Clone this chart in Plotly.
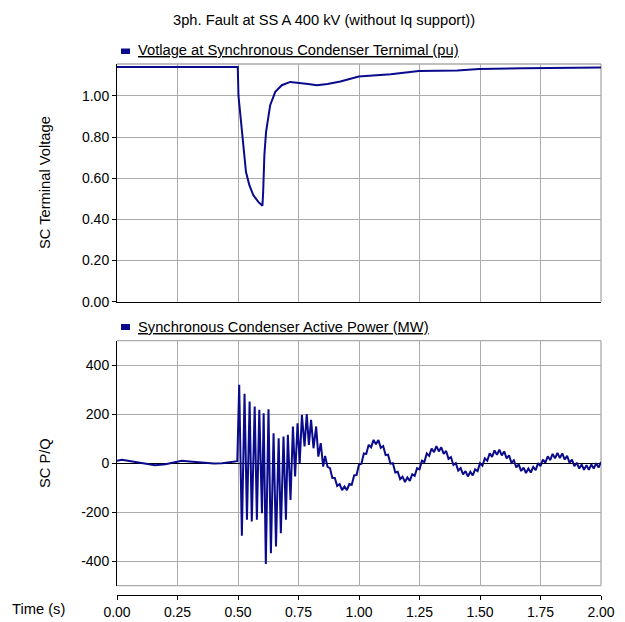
import plotly.graph_objects as go

# ---------------- data ----------------
t_volt = [0.0, 0.1, 0.2, 0.3, 0.4, 0.499, 0.502, 0.511, 0.517, 0.525, 0.533, 0.547,
          0.563, 0.584, 0.601, 0.604, 0.609, 0.616, 0.633, 0.654, 0.681, 0.716, 0.750,
          0.790, 0.826, 0.870, 0.923, 0.999, 1.131, 1.247, 1.406, 1.496, 1.682, 2.0]
volt = [1.14, 1.14, 1.14, 1.14, 1.14, 1.14, 1.00, 0.89, 0.79, 0.71, 0.63, 0.566,
        0.518, 0.485, 0.466, 0.534, 0.712, 0.825, 0.955, 1.02, 1.052, 1.068, 1.065,
        1.058, 1.052, 1.058, 1.07, 1.094, 1.105, 1.121, 1.123, 1.131, 1.134, 1.138]

t_pow = [0.0, 0.02, 0.07, 0.12, 0.157, 0.20, 0.24, 0.268, 0.30, 0.365, 0.40, 0.434, 0.47, 0.497,
         0.505, 0.516, 0.527, 0.537, 0.548, 0.557, 0.569, 0.578, 0.588, 0.599, 0.606, 0.615,
         0.626, 0.636, 0.647, 0.657, 0.668, 0.677, 0.688, 0.698, 0.706, 0.717, 0.727, 0.736,
         0.746, 0.755, 0.764, 0.775, 0.784, 0.793, 0.802, 0.812, 0.823, 0.832, 0.842, 0.852,
         0.86, 0.87, 0.88, 0.89, 0.90, 0.91, 0.92, 0.93, 0.94, 0.95, 0.96, 0.97, 0.98, 0.99,
         1.00, 1.01, 1.02, 1.03, 1.04, 1.05, 1.06, 1.07, 1.08, 1.09, 1.10, 1.11, 1.12, 1.13,
         1.14, 1.15, 1.16, 1.17, 1.18, 1.19, 1.20, 1.21, 1.22, 1.23, 1.24, 1.25, 1.26, 1.27,
         1.28, 1.29, 1.30, 1.31, 1.32, 1.33, 1.34, 1.35, 1.36, 1.37, 1.38, 1.39, 1.40, 1.41,
         1.42, 1.43, 1.44, 1.45, 1.46, 1.47, 1.48, 1.49, 1.50, 1.51, 1.52, 1.53, 1.54, 1.55,
         1.56, 1.57, 1.58, 1.59, 1.60, 1.61, 1.62, 1.63, 1.64, 1.65, 1.66, 1.67, 1.68, 1.69,
         1.70, 1.71, 1.72, 1.73, 1.74, 1.75, 1.76, 1.77, 1.78, 1.79, 1.80, 1.81, 1.82, 1.83,
         1.84, 1.85, 1.86, 1.87, 1.88, 1.89, 1.90, 1.91, 1.92, 1.93, 1.94, 1.95, 1.96, 1.97,
         1.98, 1.99, 2.00]
pow_mw = [10, 14, 6, -2, -8, -4, 4, 10, 7, 2, -1, 0, 3, 8,
          320, -296, 283, -231, 252, -238, 231, -231, 218, -204, 204, -411,
          220, -367, 122, -340, 102, -286, 109, -231, 116, -150, 150, -54,
          163, 0, 197, 68, 201, 75, 177, 61, 150, 27, 82, -14,
          30, -15, -20, -60, -60, -93, -85, -110, -95, -110, -85, -88, -50, -48,
          -5, -2, 40, 38, 75, 65, 95, 77, 95, 63, 70, 33, 35, -2,
          0, -38, -35, -65, -55, -77, -58, -72, -45, -52, -20, -25, 10, 5,
          40, 30, 60, 45, 70, 48, 65, 38, 50, 18, 25, -7, 0, -30,
          -20, -46, -32, -54, -35, -50, -25, -32, 0, -10, 20, 10, 40, 26,
          52, 34, 55, 32, 48, 20, 32, 2, 12, -17, -5, -32, -18, -40,
          -22, -38, -15, -28, 0, -12, 15, 2, 28, 13, 38, 20, 42, 21,
          40, 15, 30, 2, 15, -12, 2, -22, -5, -27, -8, -27, -5, -22,
          0, -18, 5]

x_ticks = [0.0, 0.25, 0.5, 0.75, 1.0, 1.25, 1.5, 1.75, 2.0]
v_ticks = [0.0, 0.2, 0.4, 0.6, 0.8, 1.0]
p_ticks = [-400, -200, 0, 200, 400]
p_tick_text = ["-400", "-200", "0", "200", "400"]

title_text = "3ph. Fault at SS A 400 kV (without Iq support))"
hdr_top = "Votlage at Synchronous Condenser Ternimal (pu)"
hdr_bot = "Synchronous Condenser Active Power (MW)"

# ---------------- layout geometry ----------------
W, H = 625, 622
L, R, T, B = 117, 24, 64, 22
PW, PH = W - L - R, H - T - B


def px_x(px):
    return (px - L) / PW


def px_y(py):
    return (H - B - py) / PH


FONT = "Liberation Sans, Arial, sans-serif"
LINE = "#0a0a8c"
GRID = "#ababab"

fig = go.Figure()
fig.add_trace(go.Scatter(x=t_volt, y=volt, mode="lines", xaxis="x", yaxis="y",
                         line=dict(color=LINE, width=2), showlegend=False))
fig.add_trace(go.Scatter(x=t_pow, y=pow_mw, mode="lines", xaxis="x2", yaxis="y2",
                         line=dict(color=LINE, width=2), showlegend=False))

axis_common = dict(showgrid=True, gridcolor=GRID, gridwidth=1, automargin=False,
                   tickfont=dict(family=FONT, size=14, color="#000"))

fig.update_layout(
    width=W, height=H,
    margin=dict(l=L, r=R, t=T, b=B, pad=0, autoexpand=False),
    paper_bgcolor="white", plot_bgcolor="white",
    xaxis=dict(domain=[0, 1], anchor="y", range=[0, 2], tickvals=x_ticks,
               showticklabels=False, ticks="", showline=True, linecolor="#000",
               linewidth=1, zeroline=False, **axis_common),
    yaxis=dict(domain=[px_y(301.7), 1], anchor="x", range=[0, 1.155],
               tickvals=v_ticks, tickformat=".2f", ticks="outside", ticklen=4,
               tickcolor="#000", showline=True, linecolor="#000", linewidth=1,
               zeroline=False, **axis_common),
    xaxis2=dict(domain=[0, 1], anchor="free", position=px_y(595), range=[0, 2],
                tickvals=x_ticks, tickformat=".2f", ticks="outside", ticklen=4,
                tickcolor="#000", showline=True, linecolor="#000", linewidth=1,
                zeroline=False, **axis_common),
    yaxis2=dict(domain=[px_y(585.7), px_y(340.7)], anchor="x2", range=[-500, 500],
                tickvals=p_ticks, ticktext=p_tick_text, ticks="outside", ticklen=4,
                tickcolor="#000", showline=True, linecolor="#000", linewidth=1,
                zeroline=True, zerolinecolor="#000", zerolinewidth=1.3, **axis_common),
)

shapes = []
# grey frame edges (top/right of upper plot, top/right/bottom of lower plot)
for xr, yr, edges in (("x domain", "y domain", [(0, 1, 1, 1), (1, 0, 1, 1)]),
                      ("x2 domain", "y2 domain", [(0, 1, 1, 1), (1, 0, 1, 1), (0, 0, 1, 0)])):
    for x0, y0, x1, y1 in edges:
        shapes.append(dict(type="line", xref=xr, yref=yr, x0=x0, y0=y0, x1=x1, y1=y1,
                           line=dict(color=GRID, width=1.3), layer="below"))
# legend squares
for (ya, yb) in ((48.5, 54), (324, 330)):
    shapes.append(dict(type="rect", xref="paper", yref="paper",
                       x0=px_x(121), x1=px_x(130), y0=px_y(yb), y1=px_y(ya),
                       fillcolor=LINE, line=dict(width=0)))
fig.update_layout(shapes=shapes)

ann_font = dict(family=FONT, size=14.7, color="#000")
annotations = [
    dict(text=title_text, x=px_x(324), y=px_y(20), xref="paper", yref="paper",
         xanchor="center", yanchor="middle", showarrow=False, font=ann_font),
    dict(text="<u>" + hdr_top + "</u>", x=px_x(136), y=px_y(50), xref="paper", yref="paper",
         xanchor="left", yanchor="middle", showarrow=False, font=ann_font),
    dict(text="<u>" + hdr_bot + "</u>", x=px_x(136), y=px_y(327), xref="paper", yref="paper",
         xanchor="left", yanchor="middle", showarrow=False, font=ann_font),
    dict(text="SC Terminal Voltage", x=px_x(45), y=px_y(183), xref="paper", yref="paper",
         xanchor="center", yanchor="middle", textangle=-90, showarrow=False, font=ann_font),
    dict(text="SC P/Q", x=px_x(45), y=px_y(463), xref="paper", yref="paper",
         xanchor="center", yanchor="middle", textangle=-90, showarrow=False, font=ann_font),
    dict(text="Time (s)", x=px_x(38), y=px_y(609), xref="paper", yref="paper",
         xanchor="center", yanchor="middle", showarrow=False, font=ann_font),
]
fig.update_layout(annotations=annotations)

fig.write_html("out.html")
